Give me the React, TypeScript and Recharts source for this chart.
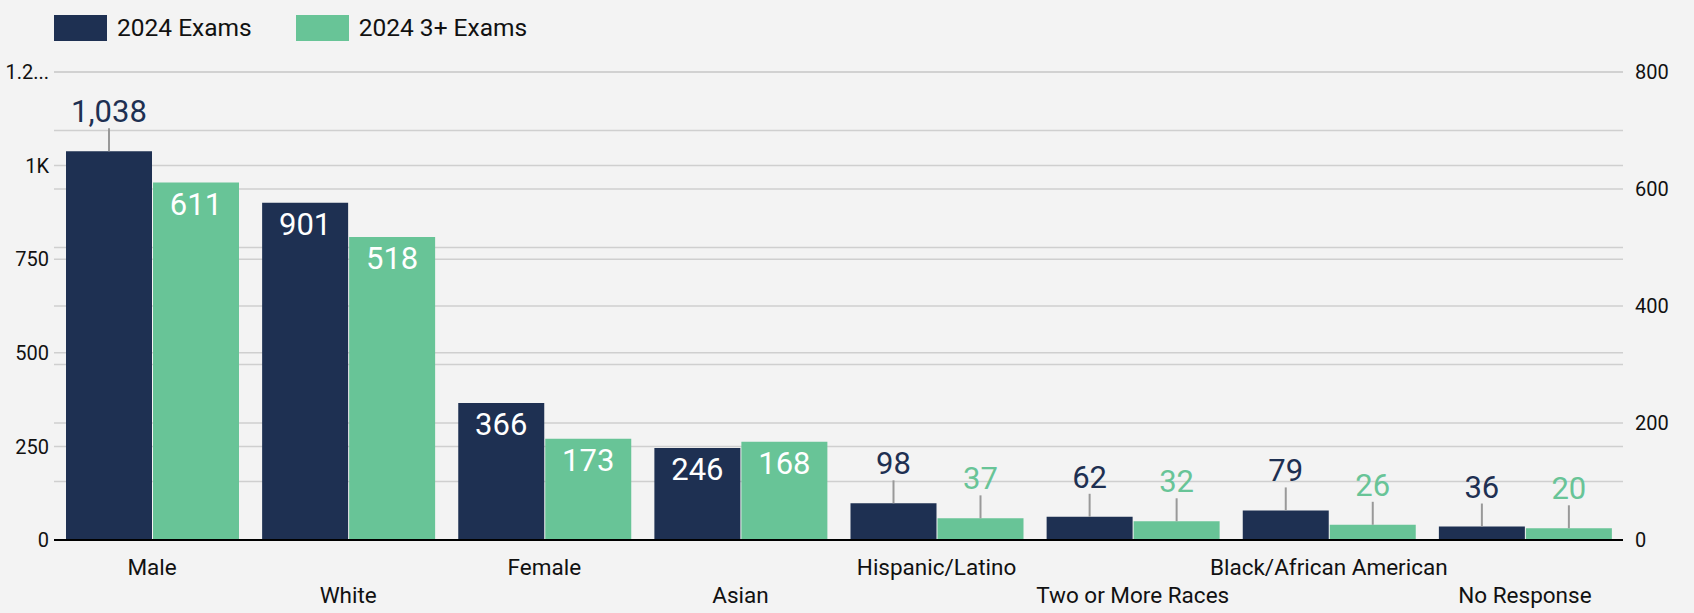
import React from 'react';
import {
	BarChart,
	Bar,
	XAxis,
	YAxis,
	CartesianGrid,
	Legend,
	LabelList,
} from 'recharts';

/* ─── Data ────────────────────────────────────────────── */

const categories = [
	'Male',
	'White',
	'Female',
	'Asian',
	'Hispanic/Latino',
	'Two or More Races',
	'Black/African American',
	'No Response',
];

const exams2024 = [1038, 901, 366, 246, 98, 62, 79, 36];
const exams3Plus2024 = [611, 518, 173, 168, 37, 32, 26, 20];

const leftTicks = [0, 250, 500, 750, 1000, 1250];
const rightTicks = [0, 100, 200, 300, 400, 500, 600, 700, 800];

const data = categories.map((name, i) => ({
	name,
	exams: exams2024[i],
	threePlus: exams3Plus2024[i],
}));

/* ─── Style ───────────────────────────────────────────── */

const DARK = '#1e3052';
const GREEN = '#68c497';
const BG = '#f3f3f3';
const GRID = '#cfcfcf';
const FONT = 'Roboto, sans-serif';

const TICK_STYLE = { fontSize: 20, fontFamily: FONT, fill: '#111' };

function leftFormat(v: number) {
	if (v === 1000) return '1K';
	if (v === 1250) return '1.2...';
	return String(v);
}

function rightFormat(v: number) {
	return v % 200 === 0 ? String(v) : '';
}

/* ─── Custom pieces ───────────────────────────────────── */

// labels alternate between two rows so the long names don't collide
function CategoryTick(props: any) {
	const { x, y, payload, index } = props;
	const dy = index % 2 === 0 ? 26.5 : 55;
	return (
		<text
			x={x}
			y={y + dy}
			textAnchor="middle"
			fontSize={22.5}
			fontFamily={FONT}
			fill="#111"
		>
			{payload.value}
		</text>
	);
}

function makeValueLabel(color: string) {
	return function ValueLabel(props: any) {
		const { x, y, width, height, value } = props;
		const cx = x + width / 2;
		const text = Number(value).toLocaleString('en-US');
		const outside = height < 60 || y < 170;

		if (outside) {
			return (
				<g>
					<line
						x1={cx}
						x2={cx}
						y1={y}
						y2={y - 23}
						stroke="#999"
						strokeWidth={2}
					/>
					<text
						x={cx}
						y={y - 29}
						textAnchor="middle"
						fontSize={31}
						fontFamily={FONT}
						fill={color}
					>
						{text}
					</text>
				</g>
			);
		}

		return (
			<text
				x={cx}
				y={y + 32}
				textAnchor="middle"
				fontSize={31}
				fontFamily={FONT}
				fill="#fff"
			>
				{text}
			</text>
		);
	};
}

function LegendContent() {
	const items = [
		{ label: '2024 Exams', color: DARK },
		{ label: '2024 3+ Exams', color: GREEN },
	];
	return (
		<div
			style={{
				height: 72,
				display: 'flex',
				alignItems: 'flex-start',
				paddingLeft: 54,
				paddingTop: 15,
				boxSizing: 'border-box',
				fontFamily: FONT,
			}}
		>
			{items.map((it) => (
				<div
					key={it.label}
					style={{ display: 'flex', alignItems: 'center', marginRight: 44 }}
				>
					<div
						style={{
							width: 53,
							height: 26,
							background: it.color,
							marginRight: 10,
						}}
					/>
					<span style={{ fontSize: 24.5, color: '#111', lineHeight: '26px' }}>
						{it.label}
					</span>
				</div>
			))}
		</div>
	);
}

/* ─── Main ────────────────────────────────────────────── */

export default function App() {
	return (
		<div style={{ width: 1694, height: 613, background: BG }}>
			<style>{'body{margin:0;background:' + BG + ';}'}</style>
			<BarChart
				width={1694}
				height={613}
				data={data}
				margin={{ top: 0, right: 0, left: 0, bottom: 0 }}
				barCategoryGap={12}
				barGap={1}
			>
				<CartesianGrid
					yAxisId="left"
					vertical={false}
					stroke={GRID}
					strokeWidth={1.5}
				/>
				<CartesianGrid
					yAxisId="right"
					vertical={false}
					stroke={GRID}
					strokeWidth={1.5}
				/>

				<Legend
					verticalAlign="top"
					align="left"
					content={<LegendContent />}
					wrapperStyle={{ top: 0, left: 0, width: 1694, height: 72 }}
				/>

				<XAxis
					dataKey="name"
					interval={0}
					height={73}
					tickLine={false}
					axisLine={{ stroke: '#000', strokeWidth: 2 }}
					tick={<CategoryTick />}
				/>

				<YAxis
					yAxisId="left"
					orientation="left"
					width={54}
					domain={[0, 1250]}
					ticks={leftTicks}
					tickFormatter={leftFormat}
					tick={TICK_STYLE}
					tickLine={false}
					axisLine={false}
					tickSize={0}
					tickMargin={5}
				/>

				<YAxis
					yAxisId="right"
					orientation="right"
					width={71}
					domain={[0, 800]}
					ticks={rightTicks}
					tickFormatter={rightFormat}
					tick={TICK_STYLE}
					tickLine={false}
					axisLine={false}
					tickSize={0}
					tickMargin={12}
				/>

				<Bar
					yAxisId="left"
					dataKey="exams"
					name="2024 Exams"
					fill={DARK}
					isAnimationActive={false}
				>
					<LabelList dataKey="exams" content={makeValueLabel(DARK)} />
				</Bar>

				<Bar
					yAxisId="right"
					dataKey="threePlus"
					name="2024 3+ Exams"
					fill={GREEN}
					isAnimationActive={false}
				>
					<LabelList dataKey="threePlus" content={makeValueLabel(GREEN)} />
				</Bar>
			</BarChart>
		</div>
	);
}
